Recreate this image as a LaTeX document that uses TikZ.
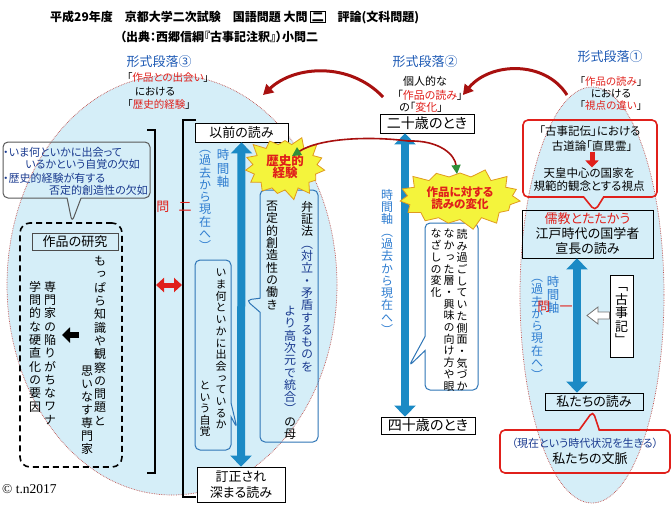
\documentclass[tikz,border=0pt]{standalone}
\usepackage{fontspec}
\setmainfont{Noto Sans CJK JP}[RawFeature=+palt]
\newfontfamily\vfont{Noto Sans CJK JP}[RawFeature=+vert]
\newfontfamily\serifmark{Liberation Serif}
\usetikzlibrary{arrows.meta, shapes.symbols, shapes.callouts}
\definecolor{SkyFill}  {HTML}{D5EEF8}
\definecolor{DotRed}   {HTML}{C0504D}
\definecolor{AxisFill} {HTML}{1B8AC5}
\definecolor{AxisText} {HTML}{2F7DD0}
\definecolor{ParaBlue} {HTML}{1F5BB5}
\definecolor{NoteNavy} {HTML}{1A3A8F}
\definecolor{NoteEdge} {HTML}{2E75B6}
\definecolor{AccentRed}{HTML}{E0201B}
\definecolor{CurveRed} {HTML}{A8100F}
\definecolor{LeafGreen}{HTML}{2F8F3A}
\definecolor{BurstFill}{HTML}{F4F43C}
\definecolor{BurstEdge}{HTML}{E09A1E}
% vertical (tategaki) column: one character per line
\def\vcolend{\vcolend}
\def\vcolaux#1{%
  \ifx#1\vcolend\let\vcolnext\relax
  \else
    \ifcat\noexpand#1\relax#1\else\hbox to 1em{\hss#1\hss}\fi
    \let\vcolnext\vcolaux
  \fi\vcolnext}
\newcommand\vcol[2][1.1em]{\vtop{\vfont\baselineskip=#1\relax
  \lineskiplimit=-\maxdimen\lineskip=0pt\vcolaux#2\vcolend}}
\newcommand\tnavy{\color{NoteNavy}}
\newcommand\tblack{\color{black}}
\newcommand\fsz[1]{\fontsize{#1}{#1}\selectfont}
\tikzset{
  axis arrow/.style={line width=8pt, draw=AxisFill,
    {Triangle[length=11pt,width=21pt]}-{Triangle[length=11pt,width=21pt]}},
  red arrow/.style={-{Triangle[length=10pt,width=11pt]}, line width=3pt, draw=CurveRed},
  leaf arrow/.style={-{Triangle[length=9pt,width=9pt,color=LeafGreen]}, line width=1.6pt, draw=CurveRed},
}

\begin{document}
\begin{tikzpicture}[x=1pt, y=-1pt, every node/.style={inner sep=0pt},
    readbox/.style={draw=black, fill=white, line width=0.8pt, align=center,
                    font=\fontsize{13}{16}\selectfont},
    vtxt/.style={anchor=north, font=\fsz{12}},
    para/.style={text=ParaBlue, font=\fsz{13}},
    small/.style={font=\fsz{10.5}},
    talk/.style={rectangle callout, draw=NoteEdge, line width=1pt,
                 rounded corners=5pt, callout pointer width=14pt},
    redtalk/.style={talk, draw=AccentRed, line width=1.6pt, callout pointer width=20pt},
    burst/.style={starburst, starburst points=15, starburst point height=11pt,
                  random starburst=3, fill=BurstFill, draw=BurstEdge, line width=0.8pt,
                  inner sep=4pt, text=AccentRed, align=center}]
  \useasboundingbox (0,0) rectangle (672,504);
  % Background ellipses
  \fill[SkyFill] (172,285) ellipse [x radius=165, y radius=210];
  \draw[DotRed, densely dotted, line width=0.7pt] (172,285) ellipse [x radius=165, y radius=210];
  \fill[SkyFill] (592,295) ellipse [x radius=72, y radius=208];
  \draw[DotRed, densely dotted, line width=0.7pt] (592,295) ellipse [x radius=72, y radius=208];

  % Title
  \node[anchor=west, font=\bfseries\fsz{12}] (title) at (50,17)
    {平成29年度　京都大学二次試験　国語問題 大問 {\fboxsep=1pt\fboxrule=0.6pt\fbox{二}}　評論(文科問題)};
  \node[anchor=west, font=\bfseries\fsz{12}] (source) at (120,37)
    {（出典：西郷信綱『古事記注釈』）小問二};

  % Paragraph 3 (left)
  \node[para] (para3) at (159,62) {形式段落③};
  \node[small] (meet) at (168,78) {「\textcolor{AccentRed}{作品との出会い}」};
  \node[small] (meetin) at (155,92) {における};
  \node[small] (histexp) at (159,105) {「\textcolor{AccentRed}{歴史的経験}」};

  \draw[line width=1.2pt] (147,130) -- (155,130) -- (155,473) -- (147,473);
  \draw[line width=1.2pt] (196,120) -- (183,120) -- (183,497) -- (196,497);
  \node[text=AccentRed, font=\fsz{13}] (qtwo) at (174,207) {問\hspace{0.7em}二};
  \coordinate (qleft) at (156,285);
  \coordinate (qright) at (182,285);
  \draw[line width=5pt, AccentRed, {Triangle[length=8pt,width=14pt]}-{Triangle[length=8pt,width=14pt]}] (qleft) -- (qright);

  % Missing awareness note
  \node[talk, draw=black!65, minimum width=147pt, minimum height=56pt,
        callout absolute pointer={(72,222)}] (gapnote) at (76.5,170) {};
  \node[anchor=west, text=NoteNavy, font=\fsz{11}] (gap1) at (3,152) {・いま何といかに出会って};
  \node[anchor=west, text=NoteNavy, font=\fsz{11}] (gap2) at (25,164) {いるかという自覚の欠如};
  \node[anchor=west, text=NoteNavy, font=\fsz{11}] (gap3) at (3,178) {・歴史的経験が有する};
  \node[anchor=east, text=NoteNavy, font=\fsz{11}] (gap4) at (148,190) {否定的創造性の欠如};

  % Study of the work
  \node[draw, dash pattern=on 6pt off 4pt, line width=1.6pt, rounded corners=10pt,
        minimum width=102pt, minimum height=244pt] (studybox) at (71,345) {};
  \node[draw=black!70, line width=0.7pt, minimum width=86pt, minimum height=17pt,
        font=\fsz{13}] (studytitle) at (75,241.5) {作品の研究};
  \node[vtxt] (studyA) at (100,256) {\vcol[13.3pt]{もっぱら知識や観察の問題と}};
  \node[vtxt] (studyB) at (87,366) {\vcol[13pt]{思いなす専門家}};
  \node[vtxt] (trapA) at (50,281) {\vcol[13.3pt]{専門家の陥りがちなワナ}};
  \node[vtxt] (trapB) at (35,281) {\vcol[13.3pt]{学問的な硬直化の要因}};
  \coordinate (trapfrom) at (79,335);
  \coordinate (trapto) at (62,335);
  \draw[line width=6pt, -{Triangle[length=8pt,width=15pt]}] (trapfrom) -- (trapto);

  % Earlier reading -> deepened reading
  \node[readbox, minimum width=93pt, minimum height=19pt] (prev) at (241.5,132.5) {以前の読み};
  \node[readbox, minimum width=88pt, minimum height=35pt] (revised) at (241,484.5) {訂正され\\深まる読み};
  \draw[axis arrow] (prev.south) -- (revised.north);
  \node[vtxt, text=AxisText, font=\fsz{12.5}] (axisL1) at (223,149) {\vcol[13.5pt]{時間軸}};
  \node[vtxt, text=AxisText] (axisL2) at (205,150) {\vcol[12.3pt]{（過去から現在へ）}};

  \node[talk, minimum width=36pt, minimum height=190pt,
        callout absolute pointer={(237,428)}] (selfnote) at (213,355) {};
  \node[vtxt, font=\fsz{11}] (selfA) at (221,269) {\vcol[11.7pt]{いま何といかに出会っているか}};
  \node[vtxt, font=\fsz{11}] (selfB) at (205,381) {\vcol[11.5pt]{という自覚}};

  \node[talk, minimum width=58pt, minimum height=252pt,
        callout absolute pointer={(246,300)}] (dialnote) at (289,316) {};
  \node[vtxt] (dialA) at (307,201) {\vcol[12.3pt]{弁証法\tnavy（対立・矛盾するものを}};
  \node[vtxt, text=NoteNavy] (dialB) at (290,306) {\vcol[12.3pt]{より高次元で統合）\tblack の母}};
  \node[vtxt] (dialC) at (272,201) {\vcol[12.3pt]{否定的創造性の働き}};

  \node[burst, font=\bfseries\fsz{12.5}] (histburst) at (285,167) {歴史的\\経験};

  % Paragraph 2 (middle)
  \node[para] (para2) at (425,62) {形式段落②};
  \node[font=\fsz{11}] (personal) at (425,81) {個人的な};
  \node[font=\fsz{11}] (midread) at (430,95) {「\textcolor{AccentRed}{作品の読み}」};
  \node[font=\fsz{11}] (change) at (421,107) {の「\textcolor{AccentRed}{変化}」};
  \node[readbox, minimum width=94pt, minimum height=19pt, font=\fsz{14}] (twenty) at (427,123.5) {二十歳のとき};
  \node[readbox, minimum width=94pt, minimum height=17pt, font=\fsz{14}] (forty) at (428,425.5) {四十歳のとき};
  \coordinate (midaxis) at (405,0);
  \draw[axis arrow] (twenty.south -| midaxis) -- (forty.north -| midaxis);
  \node[vtxt, text=AxisText] (axisM) at (387,189) {\vcol[12.3pt]{時間軸（過去から現在へ）}};

  \node[talk, fill=white, minimum width=53pt, minimum height=167pt,
        callout absolute pointer={(409,366)}] (shiftnote) at (451.5,306.5) {};
  \node[vtxt, font=\fsz{11}] (shiftA) at (462,229) {\vcol[11.7pt]{読み過ごしていた側面・気づか}};
  \node[vtxt, font=\fsz{11}] (shiftB) at (449,229) {\vcol[11.7pt]{なかった層・興味の向け方や眼}};
  \node[vtxt, font=\fsz{11}] (shiftC) at (436,229) {\vcol[11.7pt]{なざしの変化}};
  \node[burst, font=\bfseries\fsz{11.5}] (shiftburst) at (460,198) {作品に対する\\読みの変化};

  % Paragraph 1 (right)
  \node[para] (para1) at (610,57) {形式段落①};
  \node[small] (rread) at (611,82) {「\textcolor{AccentRed}{作品の読み}」};
  \node[small] (rin) at (611,94) {における};
  \node[small] (view) at (611,106) {「\textcolor{AccentRed}{視点の違い}」};

  \node[redtalk, minimum width=134pt, minimum height=77pt,
        callout absolute pointer={(595,211)}] (kojikinote) at (590,158.5) {};
  \node[font=\fsz{11.5}] (kojikiden) at (590,131) {「古事記伝」における};
  \node[font=\fsz{11.5}] (waydao) at (592,146) {古道論「直毘霊」};
  \node[font=\fsz{11.5}] (emperor) at (589,173) {天皇中心の国家を};
  \node[font=\fsz{11.5}] (norm) at (589,186) {規範的観念とする視点};
  \draw[line width=5pt, AccentRed, -{Triangle[length=7pt,width=13pt]}] (waydao.south) -- (waydao.south |- emperor.north);

  \node[readbox, fill=none, minimum width=131pt, minimum height=48pt,
        font=\fontsize{13}{15}\selectfont] (naga) at (587.5,234)
    {\textcolor{AccentRed}{儒教とたたかう}\\江戸時代の国学者\\宣長の読み};
  \node[readbox, fill=none, minimum width=98pt, minimum height=17pt] (ours) at (594,401.5) {私たちの読み};
  \coordinate (rightaxis) at (577,0);
  \draw[axis arrow] (naga.south -| rightaxis) -- (ours.north -| rightaxis);
  \node[vtxt, text=AxisText, font=\fsz{12.5}] (axisR1) at (553,276) {\vcol[13pt]{時間軸}};
  \node[vtxt, text=AxisText] (axisR2) at (537,279) {\vcol[12.3pt]{（過去から現在へ）}};
  \node[text=AccentRed, font=\fsz{13}] (qone) at (555,307) {問\hspace{0.7em}一};

  \node[draw, line width=0.8pt, fill=white, minimum width=23pt, minimum height=82pt,
        font=\fsz{13}] (kojiki) at (621.5,316) {\vcol[13.5pt]{「古事記」}};
  \draw[draw=black!55, fill=white, line width=0.8pt] (kojiki.west |- 0,312) -- (598,312) -- (598,307)
    -- (587,315.5) -- (598,324) -- (598,319) -- (kojiki.west |- 0,319) -- cycle;

  \node[redtalk, minimum width=170pt, minimum height=43pt,
        callout absolute pointer={(593,411)}] (contextnote) at (585,451.5) {};
  \node[text=NoteNavy, font=\fsz{11}] (present) at (585,443) {（現在という時代状況を生きる）};
  \node[font=\fsz{13}] (context) at (590,459) {私たちの文脈};

  % Curved arrows at the top
  \coordinate (r1from) at (567,95);
  \draw[red arrow] (r1from) .. controls (545,60) and (490,62) .. (midread.east);
  \coordinate (r2from) at (383,97);
  \coordinate (r2to) at (263,95);
  \draw[red arrow] (r2from) .. controls (350,62) and (295,65) .. (r2to);
  \coordinate (leafstart) at (408,141);
  \coordinate (leafL) at (292,156);
  \coordinate (leafR) at (457,174);
  \draw[leaf arrow] (leafstart) .. controls (370,136) and (320,138) .. (leafL);
  \draw[leaf arrow] (leafstart) .. controls (440,140) and (455,155) .. (leafR);

  \node[anchor=west, font=\serifmark\fsz{13.5}] (mark) at (2,489) {© t.n2017};
\end{tikzpicture}
\end{document}
